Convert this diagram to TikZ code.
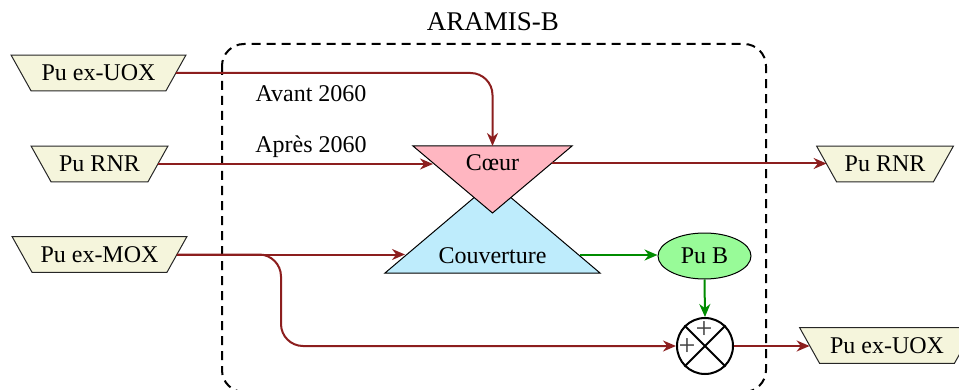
\documentclass[tikz,border=0pt]{standalone}
\usepackage{fontspec}
\setmainfont{Liberation Serif}
\usetikzlibrary{shapes.geometric,arrows.meta,backgrounds}
\definecolor{flow}{RGB}{140,30,30}
\definecolor{gflow}{RGB}{0,140,0}
\definecolor{trapfill}{RGB}{245,245,220}
\definecolor{coeurfill}{RGB}{255,182,193}
\definecolor{couvfill}{RGB}{190,236,252}
\definecolor{pubfill}{RGB}{152,251,152}
\begin{document}
\begin{tikzpicture}[x=0.5pt,y=-0.5pt,
  font=\fontsize{12}{14}\selectfont,
  stock/.style={minimum width=#1, minimum height=17.5pt, inner sep=0pt},
  trapbox/.style={draw=black!85, fill=trapfill, line width=0.5pt},
  flowline/.style={draw=flow, line width=1pt, -{Stealth[length=6.5pt,width=5.5pt]}, rounded corners=11pt},
  gline/.style={draw=gflow, line width=1pt, -{Stealth[length=6.5pt,width=5.5pt]}},
  tri/.style={draw=black, line width=0.5pt},
  lbl/.style={inner sep=0pt},
  plus/.style={inner sep=0pt, text=black!75, font=\fontsize{15}{15}\selectfont}]
\useasboundingbox (0,0) rectangle (959,390);
% system boundary
\draw[line width=1pt, dash pattern=on 4.5pt off 3pt, rounded corners=11pt] (222,44) rectangle (766,392);
\node[font=\fontsize{13.5}{16}\selectfont] (title) at (493,22) {ARAMIS-B};
% stocks
\node[stock=77pt] (uoxL) at (98.5,73) {Pu ex-UOX};
\node[stock=58pt] (rnrL) at (99.5,164) {Pu RNR};
\node[stock=77pt] (moxL) at (99.5,254.5) {Pu ex-MOX};
\node[stock=58pt] (rnrR) at (885,164) {Pu RNR};
\node[stock=77pt] (uoxR) at (887,345.5) {Pu ex-UOX};
\begin{scope}[on background layer]
\foreach \n in {uoxL,rnrL,moxL,rnrR,uoxR}
  \draw[trapbox] ([xshift=-5pt]\n.north west) -- ([xshift=5pt]\n.north east)
     -- ([xshift=-5pt]\n.south east) -- ([xshift=5pt]\n.south west) -- cycle;
\end{scope}
% reactor triangles
\draw[tri, fill=couvfill] (492.5,182) -- (600,273) -- (385,273) -- cycle;
\node[lbl] (couv) at (492.5,256) {Couverture};
\draw[tri, fill=coeurfill] (413,146) -- (572,146) -- (492.5,213) -- cycle;
\node[lbl] (coeur) at (492.5,163) {Cœur};
\coordinate (coeurN) at (492.5,146);
\coordinate (coeurW) at (433,163.5);
\coordinate (coeurE) at (552,163.5);
\coordinate (couvW) at (405,255);
\coordinate (couvE) at (580,255);
% Pu B and sum
\node[ellipse, draw=black, fill=pubfill, line width=0.5pt, minimum width=46.5pt, minimum height=23pt, inner sep=0pt] (pub) at (704.5,256) {Pu B};
\node[circle, draw=black, line width=1pt, minimum size=28pt, inner sep=0pt] (sum) at (705,346) {};
\draw[line width=1pt] (sum.north west) -- (sum.south east) (sum.north east) -- (sum.south west);
\node[plus] (plusT) at (704,330) {+};
\node[plus] (plusL) at (687,347) {+};
% labels
\node[lbl] (avant) at (311,94) {Avant 2060};
\node[lbl] (apres) at (311,147) {Après 2060};
% flows
\draw[flowline] (uoxL.east) -| (coeurN);
\draw[flowline] (rnrL.east) -- (rnrL.east -| coeurW);
\draw[flowline] (coeurE) -- (coeurE -| rnrR.west);
\draw[flowline] (moxL.east) -- (moxL.east -| couvW);
\coordinate (bx) at (281,300);
\draw[flowline] (moxL.east) -- (moxL.east -| bx) -- (bx |- sum.west) -- (sum.west);
\draw[gline] (couvE) -- (couvE -| pub.west);
\draw[gline] (pub.south) -- (sum.north);
\draw[flowline] (sum.east) -- (sum.east -| uoxR.west);
\end{tikzpicture}
\end{document}
